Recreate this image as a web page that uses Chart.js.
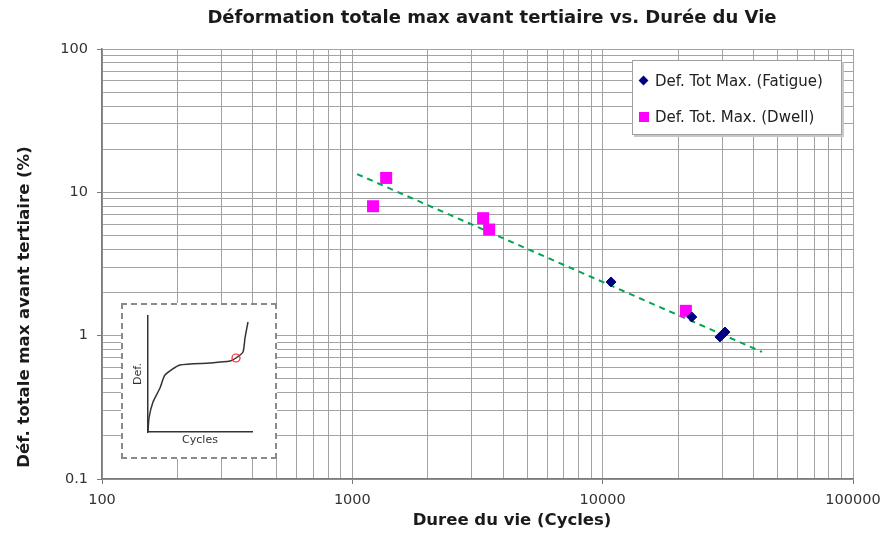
<!DOCTYPE html>
<html lang="fr">
<head>
<meta charset="utf-8">
<title>Déformation totale max avant tertiaire vs. Durée du Vie</title>
<script src="https://cdn.jsdelivr.net/npm/chart.js@4.4.1/dist/chart.umd.min.js"></script>
<style>
    html, body { margin: 0; padding: 0; background: #fff; }
    #cadre { position: relative; width: 885px; height: 535px; }
    #grafica { position: absolute; left: 0; top: 0; }
    #encart {
        position: absolute; left: 121px; top: 303px; width: 152px; height: 152px;
        border: 2px dashed #8a8a8a; background: #fff;
    }
    #leyenda {
        position: absolute; left: 632px; top: 60px; width: 208px; height: 73px;
        border: 1px solid #a0a0a0; box-shadow: 2px 2px 0 #c8c8c8; background: #fff;
        font: 15px "DejaVu Sans", sans-serif; color: #222;
    }
    .item { position: absolute; left: 0; height: 20px; line-height: 20px; white-space: nowrap; }
    .item .txt { position: absolute; left: 22px; top: 0; }
    .marca { position: absolute; }
</style>
</head>
<body>
<div id="cadre">
    <canvas id="grafica" width="885" height="535"></canvas>
    <div id="encart"><canvas id="mini" width="152" height="152"></canvas></div>
    <div id="leyenda"></div>
</div>
<script>
// Données
const cyclesFatigue = [10800, 22700, 29400, 30800];
const defFatigue = [2.37, 1.35, 0.98, 1.06];
const cyclesDwell = [1365, 1210, 3330, 3520, 21500];
const defDwell = [12.6, 8.0, 6.6, 5.5, 1.49];
// droite de tendance (extrémités)
const cyclesTendance = [1045, 43300];
const defTendance = [13.4, 0.77];

// bornes et graduations
const ticksX = [100, 1000, 10000, 100000];
const ticksY = [0.1, 1, 10, 100];

// courbe schématique de l'encart
const miniCycles = [0, 1, 5, 12, 17, 32, 62, 82, 88, 95, 97, 100];
const miniDef = [0, 14, 30, 44, 57, 67, 69, 71, 74, 80, 94, 110];
const miniPoint = [88, 74];

Chart.defaults.font.family = '"DejaVu Sans", sans-serif';
Chart.defaults.color = '#333';

function puntos(xs, ys) {
    return xs.map(function (x, i) { return { x: x, y: ys[i] }; });
}

function esDecada(v) {
    const l = Math.log10(v);
    return Math.abs(l - Math.round(l)) < 1e-9;
}

// ticks 1..9 par décade, étiquettes seulement sur les décades
function ticksLog(mayores) {
    return function (scale) {
        const t = [];
        for (let i = 0; i < mayores.length - 1; i++) {
            for (let k = 1; k <= 9; k++) {
                t.push({ value: +(mayores[i] * k).toPrecision(6) });
            }
        }
        t.push({ value: mayores[mayores.length - 1] });
        scale.ticks = t;
    };
}

const rejilla = {
    color: '#a3a3a3',
    lineWidth: 1,
    drawTicks: true,
    tickLength: 5,
    tickColor: function (c) {
        return (c.tick && esDecada(c.tick.value)) ? '#7a7a7a' : 'rgba(0,0,0,0)';
    }
};

// titres dessinés à la main pour garder leur position d'origine
const titres = {
    id: 'titres',
    afterDraw: function (chart) {
        const ctx = chart.ctx;
        ctx.save();
        ctx.fillStyle = '#1a1a1a';
        ctx.textAlign = 'center';
        ctx.textBaseline = 'middle';
        ctx.font = 'bold 18px "DejaVu Sans"';
        ctx.fillText('Déformation totale max avant tertiaire vs. Durée du Vie', 492, 18);
        ctx.font = 'bold 16.5px "DejaVu Sans"';
        ctx.fillText('Duree du vie (Cycles)', 512, 521);
        ctx.translate(25, 307);
        ctx.rotate(-Math.PI / 2);
        ctx.fillText('Déf. totale max avant tertiaire (%)', 0, 0);
        ctx.restore();
    }
};

const ctx = document.getElementById('grafica').getContext('2d');
const chart = new Chart(ctx, {
    type: 'scatter',
    data: {
        datasets: [
            {
                label: 'Def. Tot Max. (Fatigue)',
                data: puntos(cyclesFatigue, defFatigue),
                pointStyle: 'rectRot',
                pointRadius: 5,
                backgroundColor: '#000080',
                borderColor: '#000080',
                borderWidth: 1
            },
            {
                label: 'Def. Tot. Max. (Dwell)',
                data: puntos(cyclesDwell, defDwell),
                pointStyle: 'rect',
                pointRadius: 8.5,
                backgroundColor: '#ff00ff',
                borderColor: '#ff00ff',
                borderWidth: 0
            },
            {
                label: '',
                data: puntos(cyclesTendance, defTendance),
                showLine: true,
                borderColor: '#00a651',
                borderWidth: 2,
                borderDash: [6, 5],
                pointRadius: 0
            }
        ]
    },
    options: {
        responsive: false,
        animation: false,
        layout: { padding: { top: 49, right: 0, left: 0, bottom: 0 } },
        plugins: {
            legend: { display: false },
            title: { display: false },
            tooltip: { enabled: false }
        },
        scales: {
            x: {
                type: 'logarithmic',
                min: ticksX[0],
                max: ticksX[ticksX.length - 1],
                afterBuildTicks: ticksLog(ticksX),
                afterFit: function (s) { s.height = 56; s.paddingLeft = 0; s.paddingRight = 32; },
                grid: rejilla,
                border: { color: '#7a7a7a', width: 1.5 },
                ticks: {
                    autoSkip: false,
                    maxRotation: 0,
                    padding: 8,
                    font: { size: 14.5 },
                    callback: function (v) { return esDecada(v) ? String(v) : ''; }
                }
            },
            y: {
                type: 'logarithmic',
                min: ticksY[0],
                max: ticksY[ticksY.length - 1],
                afterBuildTicks: ticksLog(ticksY),
                afterFit: function (s) { s.width = 102; s.paddingTop = 0; s.paddingBottom = 0; },
                grid: rejilla,
                border: { color: '#7a7a7a', width: 1.5 },
                ticks: {
                    autoSkip: false,
                    padding: 9,
                    font: { size: 14.5 },
                    callback: function (v) { return esDecada(v) ? String(v) : ''; }
                }
            }
        }
    },
    plugins: [titres]
});

// légende HTML à partir des jeux de données
const leyenda = document.getElementById('leyenda');
chart.data.datasets.filter(function (d) { return d.label; }).forEach(function (d, i) {
    const item = document.createElement('div');
    item.className = 'item';
    item.style.top = (10 + i * 36) + 'px';
    const m = document.createElement('span');
    m.className = 'marca';
    if (d.pointStyle === 'rectRot') {
        m.style.cssText = 'left:7px;top:6px;width:7px;height:7px;transform:rotate(45deg);background:' + d.backgroundColor;
    } else {
        m.style.cssText = 'left:6px;top:5px;width:10px;height:10px;background:' + d.backgroundColor;
    }
    const t = document.createElement('span');
    t.className = 'txt';
    t.textContent = d.label;
    item.appendChild(m);
    item.appendChild(t);
    leyenda.appendChild(item);
});

// encart schématique
new Chart(document.getElementById('mini').getContext('2d'), {
    type: 'scatter',
    data: {
        datasets: [
            {
                data: [{ x: miniPoint[0], y: miniPoint[1] }],
                pointRadius: 4,
                pointStyle: 'circle',
                borderColor: '#ff2020',
                borderWidth: 1.2,
                backgroundColor: 'rgba(0,0,0,0)'
            },
            {
                data: puntos(miniCycles, miniDef),
                showLine: true,
                tension: 0.2,
                borderColor: '#333',
                borderWidth: 1.5,
                pointRadius: 0
            }
        ]
    },
    options: {
        responsive: false,
        animation: false,
        layout: { padding: { top: 11, right: 23, left: 0, bottom: 0 } },
        plugins: { legend: { display: false }, tooltip: { enabled: false } },
        scales: {
            x: {
                type: 'linear', min: 0, max: 104,
                afterFit: function (s) { s.height = 25; },
                grid: { display: false },
                border: { color: '#333', width: 1.5 },
                ticks: { display: false },
                title: { display: true, text: 'Cycles', color: '#333', font: { size: 11 }, padding: { top: 0, bottom: 10 } }
            },
            y: {
                type: 'linear', min: 0, max: 116,
                afterFit: function (s) { s.width = 25; },
                grid: { display: false },
                border: { color: '#333', width: 1.5 },
                ticks: { display: false },
                title: { display: true, text: 'Def.', color: '#333', font: { size: 11 }, padding: { top: 9, bottom: 0 } }
            }
        }
    }
});
</script>
</body>
</html>
